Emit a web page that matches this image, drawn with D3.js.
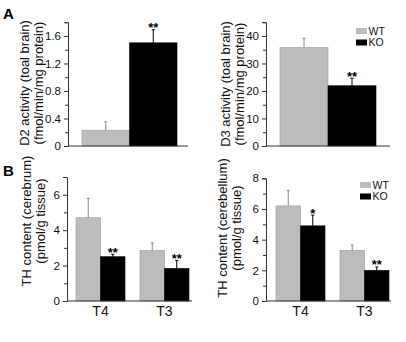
<!DOCTYPE html>
<html lang="en">
  <head>
    <meta charset="UTF-8" />
    <title>D2 / D3 activity and TH content</title>
    <style>
      body { margin: 0; background: #fff; }
      svg { display: block; font-family: 'Liberation Sans', Arial, sans-serif; }
    </style>
  </head>
  <body>
    <script src="https://d3js.org/d3.v7.min.js"></script>
    <script>
      // data
      const groups = ['WT', 'KO'];
      const hormones = ['T4', 'T3'];

      const d2Values = [0.23, 1.5];
      const d2Sem = [0.12, 0.19];
      const d2Sig = ['', '**'];

      const d3Values = [35.8, 21.9];
      const d3Sem = [3.4, 2.7];
      const d3Sig = ['', '**'];

      const cerebrumWT = [4.7, 2.85];
      const cerebrumWTSem = [1.1, 0.43];
      const cerebrumKO = [2.5, 1.84];
      const cerebrumKOSem = [0.13, 0.45];
      const cerebrumSig = ['**', '**'];

      const cerebellumWT = [6.2, 3.3];
      const cerebellumWTSem = [1.0, 0.35];
      const cerebellumKO = [4.9, 2.0];
      const cerebellumKOSem = [0.7, 0.22];
      const cerebellumSig = ['*', '**'];

      const d2Ticks = [0, 0.4, 0.8, 1.2, 1.6];
      const d2Minor = [0.2, 0.6, 1.0, 1.4, 1.8];
      const d3Ticks = [0, 10, 20, 30, 40];
      const d3Minor = [5, 15, 25, 35, 45];
      const cerebrumTicks = [0, 2, 4, 6];
      const cerebrumMinor = [1, 3, 5, 7];
      const cerebellumTicks = [0, 2, 4, 6, 8];
      const cerebellumMinor = [1, 3, 5, 7];

      const color = d3.scaleOrdinal().domain(groups).range(['#bcbcbc', '#000']);
      const errColor = d3.scaleOrdinal().domain(groups).range(['#8a8a8a', '#000']);

      const svg = d3.select('body').append('svg').attr('width', 406).attr('height', 342);

      function yAxis(g, y, ticks, minor) {
        g.call(d3.axisLeft(y).tickValues(ticks).tickSize(4).tickPadding(3).tickFormat(d3.format('~g')));
        g.call((s) => s.select('.domain').attr('stroke', '#333'));
        g.selectAll('.tick line').attr('stroke', '#333');
        g.selectAll('.tick text').attr('font-size', 11.5).attr('fill', '#111');
        g.append('g')
          .call(d3.axisLeft(y).tickValues(minor).tickSize(3).tickFormat(''))
          .call((s) => s.select('.domain').remove())
          .selectAll('.tick line')
          .attr('stroke', '#333');
      }

      function yLabel(lines, x1, x2, yc) {
        [x1, x2].forEach((x, i) => {
          svg
            .append('text')
            .attr('transform', `translate(${x},${yc}) rotate(-90)`)
            .attr('text-anchor', 'middle')
            .attr('font-size', 13)
            .attr('fill', '#111')
            .text(lines[i]);
        });
      }

      function bars(g, rows, y) {
        // rows: {x, w, value, sem, group, sig}
        g.selectAll('rect.bar')
          .data(rows)
          .join('rect')
          .attr('class', 'bar')
          .attr('x', (d) => d.x)
          .attr('width', (d) => d.w)
          .attr('y', (d) => y(d.value))
          .attr('height', (d) => y(0) - y(d.value))
          .attr('fill', (d) => color(d.group))
          .attr('stroke', (d) => (d.group === 'WT' ? '#9a9a9a' : '#000'))
          .attr('stroke-width', 0.6);

        g.selectAll('line.err')
          .data(rows)
          .join('line')
          .attr('class', 'err')
          .attr('x1', (d) => d.x + d.w / 2)
          .attr('x2', (d) => d.x + d.w / 2)
          .attr('y1', (d) => y(d.value))
          .attr('y2', (d) => y(d.value + d.sem))
          .attr('stroke', (d) => errColor(d.group))
          .attr('stroke-width', 1);

        g.selectAll('line.cap')
          .data(rows)
          .join('line')
          .attr('class', 'cap')
          .attr('x1', (d) => d.x + d.w / 2 - 1.5)
          .attr('x2', (d) => d.x + d.w / 2 + 1.5)
          .attr('y1', (d) => y(d.value + d.sem))
          .attr('y2', (d) => y(d.value + d.sem))
          .attr('stroke', (d) => errColor(d.group));

        g.selectAll('text.sig')
          .data(rows.filter((d) => d.sig))
          .join('text')
          .attr('class', 'sig')
          .attr('x', (d) => d.x + d.w / 2)
          .attr('y', (d) => y(d.value + d.sem) + 2.5)
          .attr('text-anchor', 'middle')
          .attr('font-size', 13)
          .attr('font-weight', 'bold')
          .text((d) => d.sig);
      }

      function baseline(g, y, x0, x1) {
        g.append('line')
          .attr('x1', x0)
          .attr('x2', x1)
          .attr('y1', y(0))
          .attr('y2', y(0))
          .attr('stroke', '#333');
      }

      function legend(x, y) {
        const lg = svg.append('g').attr('transform', `translate(${x},${y})`);
        const item = lg
          .selectAll('g')
          .data(groups)
          .join('g')
          .attr('transform', (d, i) => `translate(0,${i * 11.5})`);
        item.append('rect').attr('width', 11).attr('height', 6).attr('fill', (d) => color(d));
        item
          .append('text')
          .attr('x', 12.5)
          .attr('y', 6.5)
          .attr('font-size', 10.5)
          .attr('fill', '#111')
          .text((d) => d);
      }

      // panel A, D2
      {
        const axisX = 68;
        const y = d3.scaleLinear().domain([0, 1.8]).range([146, 22.2]);
        const x = d3.scaleBand().domain(groups).range([82, 177]).padding(0);
        const g = svg.append('g');
        const rows = groups.map((grp, i) => ({
          x: x(grp), w: x.bandwidth(), value: d2Values[i], sem: d2Sem[i], group: grp, sig: d2Sig[i],
        }));
        bars(g, rows, y);
        baseline(g, y, axisX, 188);
        yAxis(g.append('g').attr('transform', `translate(${axisX},0)`), y, d2Ticks, d2Minor);
        yLabel(['D2 activity (toal brain)', '(fmol/min/mg protein)'], 29, 42.5, 83);
      }

      // panel A, D3
      {
        const axisX = 266;
        const y = d3.scaleLinear().domain([0, 45]).range([146, 22.2]);
        const x = d3.scaleBand().domain(groups).range([280, 376]).padding(0);
        const g = svg.append('g');
        const rows = groups.map((grp, i) => ({
          x: x(grp), w: x.bandwidth(), value: d3Values[i], sem: d3Sem[i], group: grp, sig: d3Sig[i],
        }));
        bars(g, rows, y);
        baseline(g, y, axisX, 390);
        yAxis(g.append('g').attr('transform', `translate(${axisX},0)`), y, d3Ticks, d3Minor);
        yLabel(['D3 activity (toal brain)', '(fmol/min/mg protein)'], 229.5, 243.5, 84);
        legend(356, 28);
      }

      function thPanel(axisX, xRange, xEnd, y, wt, wtSem, ko, koSem, sig) {
        const outer = d3.scaleBand().domain(hormones).range(xRange).paddingInner(0.234).paddingOuter(0);
        const inner = d3.scaleBand().domain(groups).range([0, outer.bandwidth()]);
        const g = svg.append('g');
        const rows = [];
        hormones.forEach((h, i) => {
          rows.push({ x: outer(h) + inner('WT'), w: inner.bandwidth(), value: wt[i], sem: wtSem[i], group: 'WT', sig: '' });
          rows.push({ x: outer(h) + inner('KO'), w: inner.bandwidth(), value: ko[i], sem: koSem[i], group: 'KO', sig: sig[i] });
        });
        bars(g, rows, y);
        baseline(g, y, axisX, xEnd);
        const xa = g
          .append('g')
          .attr('transform', `translate(0,${y(0)})`)
          .call(d3.axisBottom(outer).tickSize(0).tickPadding(5));
        xa.select('.domain').remove();
        xa.selectAll('text').attr('font-size', 14).attr('fill', '#111');
        return g;
      }

      // panel B, cerebrum
      {
        const axisX = 67;
        const y = d3.scaleLinear().domain([0, 7]).range([301, 177]);
        const g = thPanel(axisX, [76, 189], 192, y, cerebrumWT, cerebrumWTSem, cerebrumKO, cerebrumKOSem, cerebrumSig);
        yAxis(g.append('g').attr('transform', `translate(${axisX},0)`), y, cerebrumTicks, cerebrumMinor);
        yLabel(['TH content (cerebrum)', '(pmol/g tissue)'], 31, 44.5, 221);
      }

      // panel B, cerebellum
      {
        const axisX = 266;
        const y = d3.scaleLinear().domain([0, 8]).range([301, 178.3]);
        const g = thPanel(axisX, [276, 389], 391, y, cerebellumWT, cerebellumWTSem, cerebellumKO, cerebellumKOSem, cerebellumSig);
        yAxis(g.append('g').attr('transform', `translate(${axisX},0)`), y, cerebellumTicks, cerebellumMinor);
        yLabel(['TH content (cerebellum)', '(pmol/g tissue)'], 227, 241, 228);
        legend(360, 182);
      }

      // panel letters
      svg.append('text').attr('x', 3).attr('y', 18.5).attr('font-size', 15).attr('font-weight', 'bold').text('A');
      svg.append('text').attr('x', 3).attr('y', 176).attr('font-size', 15).attr('font-weight', 'bold').text('B');
    </script>
  </body>
</html>
